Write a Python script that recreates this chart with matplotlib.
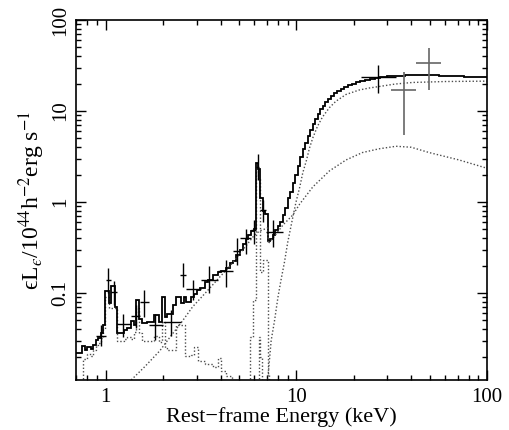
import numpy as np
import matplotlib
matplotlib.use("Agg")
import matplotlib.pyplot as plt
from matplotlib.ticker import FixedLocator, FixedFormatter, LogLocator, NullFormatter

plt.rcParams['font.family'] = ['Liberation Serif', 'DejaVu Serif']
plt.rcParams['mathtext.fontset'] = 'stix'

# total model (step histogram): bin edges in keV and eL_e values
tot_edges = [0.697, 0.749, 0.779, 0.802, 0.835, 0.858, 0.886, 0.916, 0.941, 0.968,
             0.992, 1.041, 1.071, 1.119, 1.146, 1.247, 1.299, 1.352, 1.406, 1.436,
             1.494, 1.556, 1.653, 1.790, 1.901, 1.981, 2.036, 2.094, 2.251, 2.326,
             2.491, 2.570, 2.646, 2.810, 2.900, 3.006, 3.106, 3.299, 3.433, 3.646,
             3.873, 4.035, 4.285, 4.459, 4.640, 4.834, 5.030, 5.235, 5.408, 5.587,
             5.793, 5.956, 6.152, 6.300, 6.455, 6.660, 6.856, 7.074, 7.282, 7.514,
             7.763, 7.981, 8.246, 8.478, 8.759, 9.006, 9.303, 9.564, 9.880, 10.16,
             10.46, 10.79, 11.15, 11.46, 11.84, 12.17, 12.58, 12.93, 13.33, 13.75,
             14.2, 14.7, 15.2, 15.8, 16.4, 17.1, 17.8, 18.6, 19.5, 20.5,
             21.6, 22.8, 24.2, 25.8, 27.5, 30.0, 33.0, 37.0, 42.0, 48.0,
             56.0, 65.0, 76.0, 88.0, 100.0]
tot_vals = [0.0217, 0.0262, 0.0236, 0.0255, 0.0243, 0.0268, 0.0303, 0.0318, 0.036,
            0.045, 0.105, 0.078, 0.120, 0.070, 0.036, 0.0396, 0.0416, 0.0499, 0.0443,
            0.0838, 0.0523, 0.0464, 0.0476, 0.058, 0.0476, 0.0905, 0.0544, 0.0595, 0.0738,
            0.0905, 0.0772, 0.0905, 0.080, 0.0905, 0.0985, 0.108, 0.115, 0.131, 0.139,
            0.157, 0.170, 0.177, 0.191, 0.212, 0.228, 0.264, 0.298, 0.35, 0.39,
            0.433, 0.48, 0.51, 2.7, 2.3, 1.10, 0.80, 0.74, 0.37, 0.39,
            0.44, 0.49, 0.54, 0.61, 0.72, 0.85, 1.1, 1.3, 1.6, 2.0,
            2.5, 3.1, 3.8, 4.5, 5.3, 6.2, 7.2, 8.2, 9.3, 10.4,
            11.5, 12.6, 13.6, 14.6, 15.6, 16.6, 17.5, 18.4, 19.2, 20.0,
            20.8, 21.5, 22.1, 22.7, 23.2, 23.7, 24.1, 24.4, 24.6, 24.7,
            24.7, 24.5, 24.2, 23.9, 23.6]

# soft component (dotted steps)
soft_edges = [0.760, 0.802, 0.835, 0.858, 0.886, 0.916, 0.941, 0.968, 0.992, 1.041,
              1.071, 1.146, 1.247, 1.299, 1.352, 1.406, 1.436, 1.494, 1.556, 1.653,
              1.790, 1.901, 1.981, 2.036, 2.094, 2.350, 2.600, 2.810, 2.900, 3.060,
              3.300, 3.650, 3.870, 4.030, 4.280, 4.600]
soft_vals = [0.019, 0.0215, 0.0205, 0.0235, 0.027, 0.028, 0.032, 0.040, 0.090,
             0.068, 0.069, 0.0294, 0.031, 0.0333, 0.031, 0.037, 0.069, 0.036, 0.0294,
             0.030, 0.034, 0.029, 0.048, 0.025, 0.0236, 0.045, 0.0205, 0.021, 0.0255,
             0.018, 0.0165, 0.0155, 0.0195, 0.0138, 0.0122]

# iron line component (dotted steps)
fe_edges = [5.69, 5.89, 6.15, 6.30, 6.45, 6.66, 7.07, 7.20]
fe_vals = [0.033, 0.085, 2.2, 1.8, 0.17, 0.23, 0.013]
fe2_edges = [6.35, 6.45, 6.60]
fe2_vals = [0.033, 0.020]

# reflection component (dotted)
refl_e = [1.36, 1.6, 1.92, 2.2, 2.5, 2.86, 3.37, 3.96, 4.5, 5.0, 5.5, 6.0, 6.4, 7.07,
          7.12, 7.52, 8.5, 9.57, 10.4, 12.2, 14.9, 18.2, 22.2, 27.2, 33.3, 40.0, 49.6,
          71.3, 100.0]
refl_f = [0.0111, 0.0155, 0.0232, 0.034, 0.048, 0.071, 0.103, 0.150, 0.20, 0.265,
          0.34, 0.43, 0.48, 0.52, 0.35, 0.40, 0.56, 0.72, 0.95, 1.47, 2.2, 2.9, 3.5,
          3.85, 4.1, 4.0, 3.5, 2.9, 2.35]

# absorbed power law (dotted)
abs_e = [7.07, 7.37, 7.68, 8.0, 8.3, 8.66, 9.0, 9.5, 9.95, 10.4, 10.8, 11.3, 11.7,
         12.2, 12.9, 13.7, 14.9, 16.1, 18.2, 21.3, 24.1, 27.2, 33.0, 40.7, 60.9, 100.0]
abs_f = [0.0111, 0.030, 0.050, 0.090, 0.139, 0.22, 0.36, 0.63, 1.0, 1.45, 2.1, 2.9,
         3.9, 5.1, 6.8, 8.6, 10.9, 12.8, 15.2, 17.0, 17.9, 18.6, 19.8, 20.6, 21.1, 21.3]

# data points: energy, bin limits, flux, flux limits
pt_e = np.array([0.941, 1.028, 1.101, 1.232, 1.436, 1.587, 1.805, 2.19, 2.54, 2.86,
                 3.47, 4.25, 4.87, 5.46, 5.97, 6.26, 6.67, 7.52, 26.8])
pt_elo = np.array([0.894, 1.0, 1.071, 1.146, 1.363, 1.506, 1.686, 1.994, 2.44, 2.646,
                   3.17, 3.873, 4.64, 5.07, 5.79, 6.15, 6.45, 6.95, 21.8])
pt_ehi = np.array([1.0, 1.071, 1.146, 1.363, 1.506, 1.686, 1.994, 2.491, 2.646, 3.17,
                   3.873, 4.64, 5.07, 5.79, 6.15, 6.40, 6.95, 8.48, 33.2])
pt_f = np.array([0.0342, 0.139, 0.1033, 0.0459, 0.0559, 0.080, 0.0448, 0.0487, 0.157,
                 0.110, 0.141, 0.174, 0.292, 0.40, 0.49, 2.44, 0.82, 0.47, 23.8])
pt_flo = np.array([0.0262, 0.0998, 0.0738, 0.0333, 0.0413, 0.0544, 0.0303, 0.0342,
                   0.117, 0.0838, 0.0998, 0.117, 0.205, 0.27, 0.35, 1.75, 0.61, 0.32, 15.6])
pt_fhi = np.array([0.0449, 0.187, 0.137, 0.0592, 0.0738, 0.108, 0.0592, 0.065, 0.213,
                   0.139, 0.197, 0.23, 0.40, 0.51, 0.63, 3.4, 1.05, 0.63, 32.0])

# high-energy points (second instrument, grey)
hx_e = np.array([36.8, 49.6])
hx_elo = np.array([31.3, 42.2])
hx_ehi = np.array([42.2, 57.1])
hx_f = np.array([17.0, 33.4])
hx_flo = np.array([5.46, 17.0])
hx_fhi = np.array([27.1, 48.7])

fig = plt.figure(figsize=(5.09, 4.30), dpi=100)
ax = fig.add_axes([0.149, 0.1163, 0.808, 0.8372])

dot = dict(color='0.3', lw=1.0, linestyle=(0, (1, 1.5)))
ax.stairs(soft_vals, soft_edges, baseline=1e-3, **dot)
ax.stairs(fe_vals, fe_edges, baseline=1e-3, **dot)
ax.stairs(fe2_vals, fe2_edges, baseline=1e-3, **dot)
ax.plot(refl_e, refl_f, **dot)
ax.plot(abs_e, abs_f, **dot)
ax.stairs(tot_vals, tot_edges, baseline=None, color='k', lw=1.3)

ax.errorbar(pt_e, pt_f, xerr=[pt_e - pt_elo, pt_ehi - pt_e],
            yerr=[pt_f - pt_flo, pt_fhi - pt_f], fmt='none', ecolor='k',
            elinewidth=1.0, capsize=0)
ax.errorbar(hx_e, hx_f, xerr=[hx_e - hx_elo, hx_ehi - hx_e],
            yerr=[hx_f - hx_flo, hx_fhi - hx_f], fmt='none', ecolor='0.4',
            elinewidth=1.2, capsize=0)

ax.set_xscale('log')
ax.set_yscale('log')
ax.set_xlim(0.697, 100)
ax.set_ylim(0.0111, 100)

ax.xaxis.set_major_locator(FixedLocator([1, 10, 100]))
ax.xaxis.set_major_formatter(FixedFormatter(['1', '10', '100']))
ax.yaxis.set_major_locator(FixedLocator([0.1, 1, 10, 100]))
ax.yaxis.set_major_formatter(FixedFormatter(['0.1', '1', '10', '100']))
for axis in (ax.xaxis, ax.yaxis):
    axis.set_minor_locator(LogLocator(base=10, subs=np.arange(2, 10), numticks=20))
    axis.set_minor_formatter(NullFormatter())

ax.tick_params(which='both', direction='in', top=True, right=True, width=1.0,
               labelsize=15)
ax.tick_params(axis='x', pad=6)
ax.tick_params(axis='y', pad=4)
ax.tick_params(which='major', length=7)
ax.tick_params(which='minor', length=3.5)
for lab in ax.get_yticklabels():
    lab.set_rotation(90)
    lab.set_va('center')
for sp in ax.spines.values():
    sp.set_linewidth(1.2)

ax.set_xlabel('Rest\u2212frame Energy (keV)', fontsize=16, labelpad=0)
ax.set_ylabel('\u03f5L$_{\u03f5}$/10$^{44}$h$^{-2}$erg s$^{-1}$',
              fontsize=17, labelpad=3)

fig.savefig('out.png', dpi=100)
